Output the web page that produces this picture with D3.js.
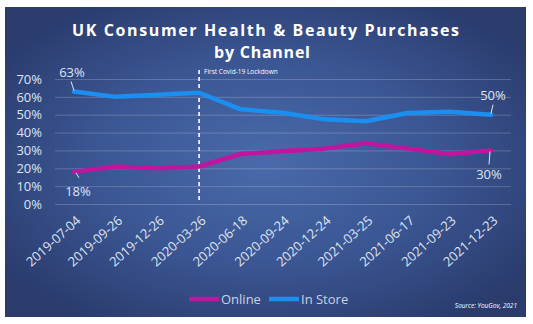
<!DOCTYPE html>
<html>
<head>
<meta charset="utf-8">
<script src="https://cdn.jsdelivr.net/npm/d3@7"></script>
<style>
  html, body { margin: 0; padding: 0; background: #ffffff; }
  svg { display: block; }
  text { font-family: "Open Sans", "Noto Sans", sans-serif; }
</style>
</head>
<body>
<svg id="chart" width="533" height="324"></svg>
<script>
// Survey waves (quarterly)
const dates = ["2019-07-04", "2019-09-26", "2019-12-26", "2020-03-26", "2020-06-18",
               "2020-09-24", "2020-12-24", "2021-03-25", "2021-06-17", "2021-09-23", "2021-12-23"];
// Share of purchases by channel
const online  = [0.18, 0.21, 0.20, 0.21, 0.28, 0.295, 0.31, 0.34, 0.31, 0.28, 0.30];
const inStore = [0.63, 0.60, 0.612, 0.623, 0.53, 0.511, 0.474, 0.463, 0.51, 0.517, 0.50];
const yTicks = [0, 0.1, 0.2, 0.3, 0.4, 0.5, 0.6, 0.7];
const lockdownDate = "2020-03-26";

const svg = d3.select("#chart");

// Card background with a soft radial glow
const defs = svg.append("defs");
const grad = defs.append("radialGradient")
  .attr("id", "bg").attr("cx", "50%").attr("cy", "50%").attr("r", "62%");
grad.append("stop").attr("offset", "0%").attr("stop-color", "#4a6aab");
grad.append("stop").attr("offset", "55%").attr("stop-color", "#3a5592");
grad.append("stop").attr("offset", "100%").attr("stop-color", "#2a3b6c");

svg.append("rect")
  .attr("x", 5).attr("y", 7).attr("width", 521).attr("height", 310)
  .attr("fill", "url(#bg)");

// Title
const title = svg.append("g").attr("fill", "#ffffff")
  .style("font-weight", 700).style("font-size", "16px");
title.append("text").attr("x", 72).attr("y", 35.5)
  .attr("textLength", 387).attr("lengthAdjust", "spacing")
  .text("UK Consumer Health & Beauty Purchases");
title.append("text").attr("x", 214).attr("y", 57.5)
  .attr("textLength", 96).attr("lengthAdjust", "spacing")
  .text("by Channel");

// Scales
const x = d3.scalePoint().domain(dates).range([74, 491]);
const y = d3.scaleLinear().domain([0, 0.7]).range([204, 79]);
const gridX0 = 55, gridX1 = 511;

// Horizontal gridlines + y labels
const yAxis = d3.axisLeft(y).tickValues(yTicks).tickFormat(d3.format(".0%"))
  .tickSize(-(gridX1 - gridX0)).tickPadding(13);
const gy = svg.append("g").attr("transform", `translate(${gridX0},0)`).call(yAxis);
gy.select(".domain").remove();
gy.selectAll(".tick line").attr("stroke", "#ffffff").attr("stroke-opacity", 0.2);
gy.selectAll(".tick text").attr("fill", "#dfe5f2").style("font-size", "13px")
  .style("font-family", "\"Open Sans\", sans-serif");

// Rotated date labels
const xAxis = d3.axisBottom(x).tickSize(0).tickPadding(0);
const gx = svg.append("g").attr("transform", "translate(0,215)").call(xAxis);
gx.select(".domain").remove();
gx.selectAll(".tick text")
  .attr("fill", "#dfe5f2").style("font-size", "13px")
  .style("font-family", "\"Open Sans\", sans-serif")
  .attr("text-anchor", "end").attr("dy", "0.7em")
  .attr("transform", "translate(1,0) rotate(-42)");

// Lockdown marker
const lx = x(lockdownDate);
svg.append("line")
  .attr("x1", lx).attr("x2", lx).attr("y1", 70).attr("y2", 200)
  .attr("stroke", "#ffffff").attr("stroke-width", 1.6).attr("stroke-dasharray", "4,3");
svg.append("text").attr("x", lx + 5).attr("y", 74)
  .attr("fill", "#ffffff").style("font-size", "6.5px")
  .text("First Covid-19 Lockdown");

// Series lines
const line = d3.line().x((d, i) => x(dates[i])).y(d => y(d));
svg.append("path").datum(online).attr("d", line)
  .attr("fill", "none").attr("stroke", "#c0159f").attr("stroke-width", 4.5)
  .attr("stroke-linejoin", "round").attr("stroke-linecap", "round");
svg.append("path").datum(inStore).attr("d", line)
  .attr("fill", "none").attr("stroke", "#1b8ff0").attr("stroke-width", 4.5)
  .attr("stroke-linejoin", "round").attr("stroke-linecap", "round");

// End-point value labels with leader lines
const fmt = d3.format(".0%");
const last = dates.length - 1;
const callouts = [
  { v: inStore[0], px: x(dates[0]), lx1: -3, ly1: -10, lx2: 0, ly2: -1, tx: -2, ty: -15 },
  { v: online[0], px: x(dates[0]), lx1: 2, ly1: 1, lx2: 5, ly2: 6, tx: 4, ty: 24 },
  { v: inStore[last], px: x(dates[last]), lx1: 0, ly1: -1, lx2: 2, ly2: -10, tx: 2, ty: -15 },
  { v: online[last], px: x(dates[last]), lx1: -1, ly1: 1, lx2: -2, ly2: 14, tx: -2, ty: 29 }
];
callouts.forEach(c => {
  const py = y(c.v);
  svg.append("line")
    .attr("x1", c.px + c.lx1).attr("y1", py + c.ly1)
    .attr("x2", c.px + c.lx2).attr("y2", py + c.ly2)
    .attr("stroke", "#dfe5f2").attr("stroke-width", 1);
  svg.append("text")
    .attr("x", c.px + c.tx).attr("y", py + c.ty)
    .attr("text-anchor", "middle")
    .attr("fill", "#dfe5f2").style("font-size", "13px")
    .text(fmt(c.v));
});

// Legend
const legend = [
  { name: "Online", color: "#c0159f", x: 189 },
  { name: "In Store", color: "#1b8ff0", x: 269 }
];
legend.forEach(l => {
  svg.append("line")
    .attr("x1", l.x).attr("x2", l.x + 30).attr("y1", 299).attr("y2", 299)
    .attr("stroke", l.color).attr("stroke-width", 4.5);
  svg.append("text").attr("x", l.x + 32).attr("y", 303.5)
    .attr("fill", "#c9d2e4").style("font-size", "13px").text(l.name);
});

// Source note
svg.append("text").attr("x", 517).attr("y", 308).attr("text-anchor", "end")
  .attr("fill", "#ffffff").style("font-size", "6.5px").style("font-style", "italic")
  .text("Source: YouGov, 2021");
</script>
</body>
</html>
